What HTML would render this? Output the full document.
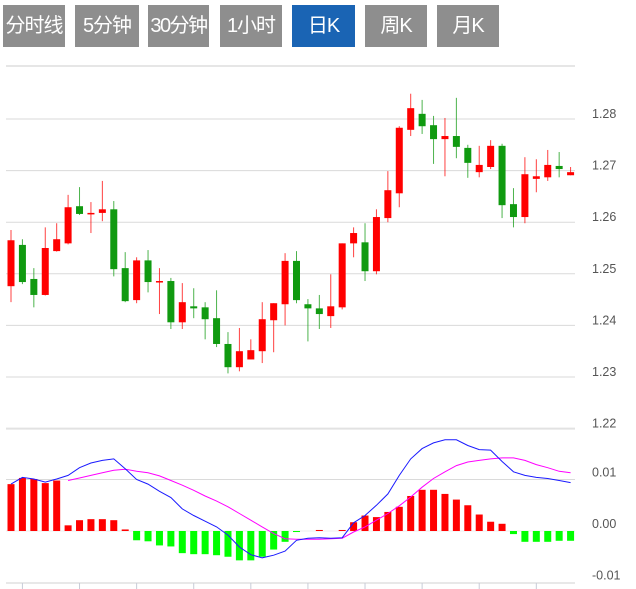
<!DOCTYPE html>
<html><head><meta charset="utf-8">
<style>
body{margin:0;background:#fff;width:636px;height:589px;overflow:hidden;font-family:"Liberation Sans","Noto Sans CJK SC",sans-serif;}
.btn{position:absolute;top:5px;height:42px;background:#8e8e8e;color:#fff;font-size:20px;line-height:42px;text-align:center;white-space:nowrap;letter-spacing:-1px;font-family:"Liberation Sans","Noto Sans CJK SC",sans-serif;cursor:pointer;overflow:visible}
.btn.on{background:#1a64b4}
svg{position:absolute;left:0;top:0}
</style></head><body>
<div class="btn" style="left:3px;width:62px">分时线</div>
<div class="btn" style="left:75px;width:64px">5分钟</div>
<div class="btn" style="left:148px;width:61px;letter-spacing:-1.5px">30分钟</div>
<div class="btn" style="left:220px;width:62px">1小时</div>
<div class="btn on" style="left:292px;width:63px">日K</div>
<div class="btn" style="left:365px;width:62px">周K</div>
<div class="btn" style="left:437px;width:62px">月K</div>
<svg id="chart" width="636" height="589" viewBox="0 0 636 589"></svg>
<script>
const opens=[1.2476,1.2556,1.2490,1.2459,1.2544,1.2559,1.2631,1.2616,1.2618,1.2625,1.2511,1.2449,1.2526,1.2484,1.2486,1.2406,1.2437,1.2435,1.2414,1.2364,1.2319,1.2334,1.2350,1.2410,1.2441,1.2525,1.2441,1.2433,1.2418,1.2435,1.2559,1.2561,1.2505,1.2608,1.2656,1.2779,1.2810,1.2788,1.2761,1.2767,1.2744,1.2697,1.2707,1.2748,1.2635,1.2610,1.2684,1.2687,1.2709,1.2691];
const highs=[1.2585,1.2567,1.2511,1.2590,1.2598,1.2653,1.2668,1.2639,1.2680,1.2641,1.2542,1.2532,1.2546,1.2511,1.2492,1.2482,1.2472,1.2445,1.2468,1.2387,1.2395,1.2373,1.2445,1.2443,1.2540,1.2544,1.2451,1.2459,1.2499,1.2559,1.2590,1.2598,1.2625,1.2699,1.2786,1.2849,1.2837,1.2806,1.2802,1.2841,1.2750,1.2748,1.2759,1.2752,1.2666,1.2726,1.2722,1.2740,1.2736,1.2707];
const lows=[1.2445,1.2480,1.2435,1.2458,1.2543,1.2557,1.2614,1.2579,1.2602,1.2495,1.2445,1.2443,1.2464,1.2422,1.2393,1.2393,1.2414,1.2373,1.2358,1.2307,1.2311,1.2334,1.2327,1.2348,1.2400,1.2443,1.2369,1.2393,1.2395,1.2431,1.2532,1.2486,1.2499,1.2600,1.2629,1.2767,1.2771,1.2713,1.2689,1.2724,1.2686,1.2687,1.2703,1.2608,1.2590,1.2598,1.2658,1.2680,1.2687,1.2691];
const closes=[1.2565,1.2484,1.2459,1.2550,1.2567,1.2629,1.2616,1.2618,1.2625,1.2509,1.2447,1.2526,1.2484,1.2486,1.2406,1.2445,1.2433,1.2412,1.2364,1.2319,1.2350,1.2352,1.2412,1.2443,1.2525,1.2449,1.2433,1.2422,1.2437,1.2559,1.2579,1.2505,1.2610,1.2662,1.2783,1.2821,1.2786,1.2761,1.2767,1.2746,1.2715,1.2711,1.2748,1.2633,1.2610,1.2693,1.2689,1.2711,1.2703,1.2697];
const macdBars=[0.0091,0.0103,0.0101,0.0093,0.0098,0.0011,0.0021,0.0023,0.0023,0.0021,0.0003,-0.0018,-0.0020,-0.0028,-0.0030,-0.0043,-0.0045,-0.0045,-0.0047,-0.0050,-0.0057,-0.0057,-0.0050,-0.0036,-0.0021,-0.0002,0,0.0002,0,0.0002,0.0017,0.0030,0.0027,0.0037,0.0047,0.0068,0.0080,0.0080,0.0072,0.0061,0.0050,0.0032,0.0018,0.0014,-0.0006,-0.0021,-0.0021,-0.0021,-0.0019,-0.0019];
const difLine=[0.0091,0.0104,0.0101,0.0095,0.0101,0.0108,0.0123,0.0132,0.0137,0.0140,0.0121,0.0100,0.0091,0.0077,0.0065,0.0043,0.0030,0.0019,0.0008,-0.0008,-0.0031,-0.0046,-0.0052,-0.0047,-0.0039,-0.0018,-0.0014,-0.0013,-0.0014,-0.0013,0.0016,0.0030,0.0050,0.0072,0.0108,0.0140,0.0160,0.0171,0.0177,0.0177,0.0166,0.0158,0.0157,0.0135,0.0115,0.0108,0.0104,0.0102,0.0098,0.0094];
const deaLine=[null,null,null,null,null,0.0098,0.0103,0.0108,0.0113,0.0118,0.0120,0.0116,0.0113,0.0107,0.0098,0.0089,0.0079,0.0068,0.0058,0.0047,0.0034,0.0021,0.0008,-0.0005,-0.0015,-0.0016,-0.0016,-0.0016,-0.0015,-0.0014,-0.0002,0.0008,0.0021,0.0034,0.0049,0.0066,0.0085,0.0102,0.0115,0.0127,0.0134,0.0137,0.0140,0.0142,0.0142,0.0137,0.0129,0.0123,0.0116,0.0113];
const priceTicks=[1.28,1.27,1.26,1.25,1.24,1.23,1.22];
const macdTicks=[0.01,0.00,-0.01];

const svg=document.getElementById('chart');
const NS='http://www.w3.org/2000/svg';
function mk(t,a){const e=document.createElementNS(NS,t);for(const k in a)e.setAttribute(k,a[k]);svg.appendChild(e);return e;}
const X0=6,X1=575;
const xAt=i=>11+i*11.42;
const yP=p=>119+(1.28-p)*5160;
const yM=v=>531-v*5150;

let g=mk('line',{x1:X0,x2:X1,y1:66,y2:66,stroke:'#e6e6e6','stroke-width':2});


priceTicks.forEach(p=>{
  const l=mk('line',{x1:X0,x2:X1,y1:yP(p),y2:yP(p),stroke:p===1.22?'#e2e2e2':'#dadada','stroke-width':p===1.22?2:1});
  
  
  const t=mk('text',{x:592,y:yP(p)-1,'font-size':12.5,fill:'#555','font-family':'Liberation Sans, sans-serif'});
  t.textContent=p.toFixed(2);
  
  
});
macdTicks.forEach(v=>{
  const y=yM(v);
  if(v!==-0.01){const l=mk('line',{x1:X0,x2:X1,y1:y,y2:y,stroke:v===0?'#eeeeee':'#dadada','stroke-width':1});
  
  }
  const t=mk('text',{x:592,y:y-3,'font-size':12.5,fill:'#555','font-family':'Liberation Sans, sans-serif'});
  t.textContent=v.toFixed(2);
  
  
});
const ax=mk('line',{x1:X0,x2:X1,y1:583,y2:583,stroke:'#d0d0d0','stroke-width':1});


for(let i=1;i<opens.length;i+=5){
  const tk=mk('line',{x1:xAt(i),x2:xAt(i),y1:583,y2:589,stroke:'#c8ccd8','stroke-width':1});
  
  
}
opens.forEach((o,i)=>{
  const c=closes[i],up=c>=o,col=up?'#ff0000':'#109a10';
  const x=xAt(i);
  const w=mk('line',{x1:x,x2:x,y1:yP(highs[i]),y2:yP(lows[i]),stroke:col,'stroke-width':1,'stroke-opacity':0.75});
  
  
  const top=yP(Math.max(o,c)),bot=yP(Math.min(o,c));
  const b=mk('rect',{x:x-3.5,y:top,width:7,height:Math.max(1.5,bot-top),fill:col});
  
  
});
macdBars.forEach((v,i)=>{
  if(v===0)return;
  const y0=yM(0),y=yM(v);
  const r=mk('rect',{x:xAt(i)-3.5,y:Math.min(y0,y),width:7,height:Math.abs(y-y0),fill:v>0?'#ff0000':'#00ff00'});
  
  
});
function line(arr,col,name){
  let d='';arr.forEach((v,i)=>{if(v===null)return;d+=(d?'L':'M')+xAt(i).toFixed(1)+' '+yM(v).toFixed(1);});
  const p=mk('path',{d:d,fill:'none',stroke:col,'stroke-width':1});
  
  
}
line(deaLine,'#ff00ff','dea-line');
line(difLine,'#1a1aff','dif-line');
</script>
</body></html>
